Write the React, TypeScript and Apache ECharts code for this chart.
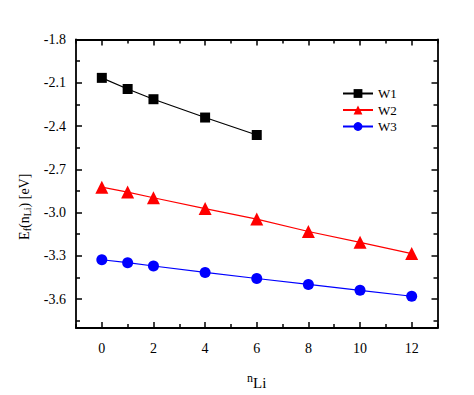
import React, { useEffect, useRef } from "react";
import * as echarts from "echarts";

const xW1 = [0, 1, 2, 4, 6];
const yW1 = [-2.066, -2.143, -2.214, -2.341, -2.462];
const xW23 = [0, 1, 2, 4, 6, 8, 10, 12];
const yW2 = [-2.824, -2.858, -2.897, -2.972, -3.045, -3.131, -3.206, -3.284];
const yW3 = [-3.327, -3.347, -3.37, -3.415, -3.457, -3.498, -3.539, -3.58];
const seriesNames = ["W1", "W2", "W3"];
const xMajor = [0, 2, 4, 6, 8, 10, 12];
const xMinor = [-1, 1, 3, 5, 7, 9, 11, 13];
const yMajor = [-1.8, -2.1, -2.4, -2.7, -3.0, -3.3, -3.6];
const yMinor = [-1.95, -2.25, -2.55, -2.85, -3.15, -3.45, -3.75];

const FONT = "Liberation Serif";

export default function App() {
  const ref = useRef<HTMLDivElement>(null);
  useEffect(() => {
    if (!ref.current) return;
    const chart = echarts.init(ref.current, undefined, { renderer: "svg" });
    const axisLine = { show: true, onZero: false, lineStyle: { color: "#000", width: 1.8 } };
    const noLine = { show: false, onZero: false };
    const tick = (vals: number[], len: number) => ({
      show: true,
      inside: true,
      length: len,
      customValues: vals,
      lineStyle: { color: "#000", width: 1.5 },
    });
    const xBase = { type: "value" as const, min: -1, max: 13, splitLine: { show: false } };
    const yBase = { type: "value" as const, min: -3.8, max: -1.8, splitLine: { show: false } };
    const mk = (x: number[], y: number[]) => x.map((v, i) => [v, y[i]]);
    chart.setOption({
      animation: false,
      textStyle: { fontFamily: FONT },
      grid: { left: 76, top: 39.5, right: 36.5, bottom: 62 },
      legend: {
        orient: "vertical",
        left: 337,
        top: 82,
        itemWidth: 30,
        itemHeight: 11,
        itemGap: 3.5,
        textStyle: { fontFamily: FONT, fontSize: 13, color: "#000", lineHeight: 13 },
        data: seriesNames,
      },
      xAxis: [
        {
          ...xBase,
          position: "bottom",
          axisLine,
          axisTick: tick(xMajor, 6),
          axisLabel: {
            customValues: xMajor,
            fontFamily: FONT,
            fontSize: 14,
            color: "#000",
            margin: 13,
          },
          name: "{a|n}{b|Li}",
          nameLocation: "middle",
          nameGap: 44,
          nameTextStyle: {
            rich: {
              a: { fontFamily: FONT, fontSize: 12, color: "#000", verticalAlign: "top", padding: [0, 0, 6, 0] },
              b: { fontFamily: FONT, fontSize: 15, color: "#000", verticalAlign: "bottom" },
            },
          },
        },
        { ...xBase, position: "bottom", axisLine: noLine, axisTick: tick(xMinor, 4), axisLabel: { show: false } },
        { ...xBase, position: "top", axisLine, axisTick: tick(xMajor, 6), axisLabel: { show: false } },
        { ...xBase, position: "top", axisLine: noLine, axisTick: tick(xMinor, 4), axisLabel: { show: false } },
      ],
      yAxis: [
        {
          ...yBase,
          position: "left",
          axisLine,
          axisTick: tick(yMajor, 6),
          axisLabel: {
            customValues: yMajor,
            fontFamily: FONT,
            fontSize: 14,
            color: "#000",
            margin: 10,
            formatter: (v: number) => v.toFixed(1),
          },
          name: "{a|E}{b|f}{a|(n}{b|Li}{a|) [eV]}",
          nameLocation: "middle",
          nameGap: 43,
          nameTextStyle: {
            padding: [0, 46, 0, 0],
            rich: {
              a: { fontFamily: FONT, fontSize: 14, color: "#000" },
              b: { fontFamily: FONT, fontSize: 10, color: "#000", verticalAlign: "bottom", padding: [6, 0, 0, 0] },
            },
          },
        },
        { ...yBase, position: "left", axisLine: noLine, axisTick: tick(yMinor, 4), axisLabel: { show: false } },
        { ...yBase, position: "right", axisLine, axisTick: tick(yMajor, 6), axisLabel: { show: false } },
        { ...yBase, position: "right", axisLine: noLine, axisTick: tick(yMinor, 4), axisLabel: { show: false } },
      ],
      series: [
        {
          name: "W1",
          type: "line",
          data: mk(xW1, yW1),
          symbol: "rect",
          symbolSize: 10,
          itemStyle: { color: "#000" },
          lineStyle: { color: "#000", width: 1.2 },
        },
        {
          name: "W2",
          type: "line",
          data: mk(xW23, yW2),
          symbol: "triangle",
          symbolSize: 13,
          itemStyle: { color: "#ff0000" },
          lineStyle: { color: "#ff0000", width: 1.2 },
        },
        {
          name: "W3",
          type: "line",
          data: mk(xW23, yW3),
          symbol: "circle",
          symbolSize: 11,
          itemStyle: { color: "#0000ff" },
          lineStyle: { color: "#0000ff", width: 1.2 },
        },
      ],
    });
    return () => chart.dispose();
  }, []);
  return <div ref={ref} style={{ width: 474, height: 395, position: "absolute", left: 0, top: 0 }} />;
}
